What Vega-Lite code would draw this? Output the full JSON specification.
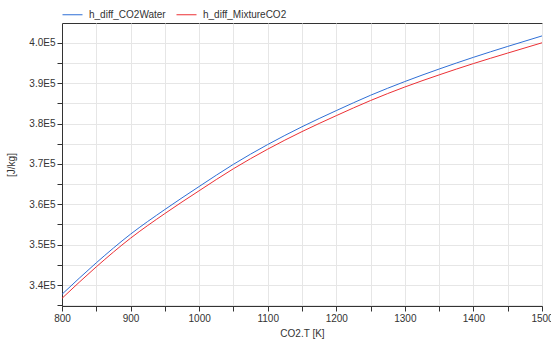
{
  "$schema": "https://vega.github.io/schema/vega-lite/v6.json",
  "autosize": "none",
  "width": 480,
  "height": 283,
  "padding": {"left": 62, "top": 23, "right": 9, "bottom": 38},
  "background": "white",
  "config": {
    "font": "Liberation Sans",
    "view": {"stroke": "#333333", "strokeWidth": 1},
    "axis": {
      "labelFont": "Liberation Sans",
      "titleFont": "Liberation Sans",
      "labelFontSize": 10,
      "titleFontSize": 10,
      "titleFontWeight": "normal",
      "labelColor": "#333333",
      "titleColor": "#333333",
      "domainColor": "#333333",
      "tickColor": "#333333",
      "tickSize": 5,
      "gridColor": "#e6e6e6",
      "gridWidth": 1
    },
    "legend": {
      "labelFont": "Liberation Sans",
      "labelFontSize": 10,
      "labelColor": "#333333"
    }
  },
  "data": {
    "values": [
      {"T": 800, "series": "h_diff_CO2Water", "h": 337700},
      {"T": 850, "series": "h_diff_CO2Water", "h": 345500},
      {"T": 900, "series": "h_diff_CO2Water", "h": 352600},
      {"T": 950, "series": "h_diff_CO2Water", "h": 358700},
      {"T": 1000, "series": "h_diff_CO2Water", "h": 364400},
      {"T": 1050, "series": "h_diff_CO2Water", "h": 369900},
      {"T": 1100, "series": "h_diff_CO2Water", "h": 374800},
      {"T": 1150, "series": "h_diff_CO2Water", "h": 379200},
      {"T": 1200, "series": "h_diff_CO2Water", "h": 383200},
      {"T": 1250, "series": "h_diff_CO2Water", "h": 387000},
      {"T": 1300, "series": "h_diff_CO2Water", "h": 390400},
      {"T": 1350, "series": "h_diff_CO2Water", "h": 393500},
      {"T": 1400, "series": "h_diff_CO2Water", "h": 396400},
      {"T": 1450, "series": "h_diff_CO2Water", "h": 399100},
      {"T": 1500, "series": "h_diff_CO2Water", "h": 401700},
      {"T": 800, "series": "h_diff_MixtureCO2", "h": 336700},
      {"T": 850, "series": "h_diff_MixtureCO2", "h": 344500},
      {"T": 900, "series": "h_diff_MixtureCO2", "h": 351600},
      {"T": 950, "series": "h_diff_MixtureCO2", "h": 357700},
      {"T": 1000, "series": "h_diff_MixtureCO2", "h": 363350},
      {"T": 1050, "series": "h_diff_MixtureCO2", "h": 368800},
      {"T": 1100, "series": "h_diff_MixtureCO2", "h": 373650},
      {"T": 1150, "series": "h_diff_MixtureCO2", "h": 378000},
      {"T": 1200, "series": "h_diff_MixtureCO2", "h": 381950},
      {"T": 1250, "series": "h_diff_MixtureCO2", "h": 385700},
      {"T": 1300, "series": "h_diff_MixtureCO2", "h": 389050},
      {"T": 1350, "series": "h_diff_MixtureCO2", "h": 392050},
      {"T": 1400, "series": "h_diff_MixtureCO2", "h": 394850},
      {"T": 1450, "series": "h_diff_MixtureCO2", "h": 397450},
      {"T": 1500, "series": "h_diff_MixtureCO2", "h": 400000}
    ]
  },
  "mark": {"type": "line", "strokeWidth": 1, "interpolate": "monotone", "clip": true},
  "encoding": {
    "x": {
      "field": "T",
      "type": "quantitative",
      "scale": {"domain": [800, 1500], "nice": false, "zero": false},
      "axis": {
        "title": "CO2.T [K]",
        "values": [800, 850, 900, 950, 1000, 1050, 1100, 1150, 1200, 1250, 1300, 1350, 1400, 1450, 1500],
        "labelExpr": "datum.value % 100 === 0 ? toString(datum.value) : ''",
        "labelPadding": 2,
        "titlePadding": 5,
        "labelFlush": false,
        "labelOverlap": false
      }
    },
    "y": {
      "field": "h",
      "type": "quantitative",
      "scale": {"domain": [334800, 404900], "nice": false, "zero": false},
      "axis": {
        "title": "[J/kg]",
        "values": [335000, 340000, 345000, 350000, 355000, 360000, 365000, 370000, 375000, 380000, 385000, 390000, 395000, 400000],
        "labelExpr": "datum.value % 10000 === 0 ? format(datum.value / 100000, '.1f') + 'E5' : ''",
        "labelPadding": 2,
        "titlePadding": 12,
        "labelFlush": false,
        "labelOverlap": false
      }
    },
    "color": {
      "field": "series",
      "type": "nominal",
      "scale": {"domain": ["h_diff_CO2Water", "h_diff_MixtureCO2"], "range": ["#2f6fd6", "#ec3035"]},
      "legend": {
        "title": null,
        "orient": "none",
        "legendX": 0,
        "legendY": -19,
        "direction": "horizontal",
        "symbolType": "stroke",
        "symbolSize": 400,
        "symbolStrokeWidth": 1,
        "labelOffset": 6,
        "columnPadding": 8
      }
    }
  }
}
